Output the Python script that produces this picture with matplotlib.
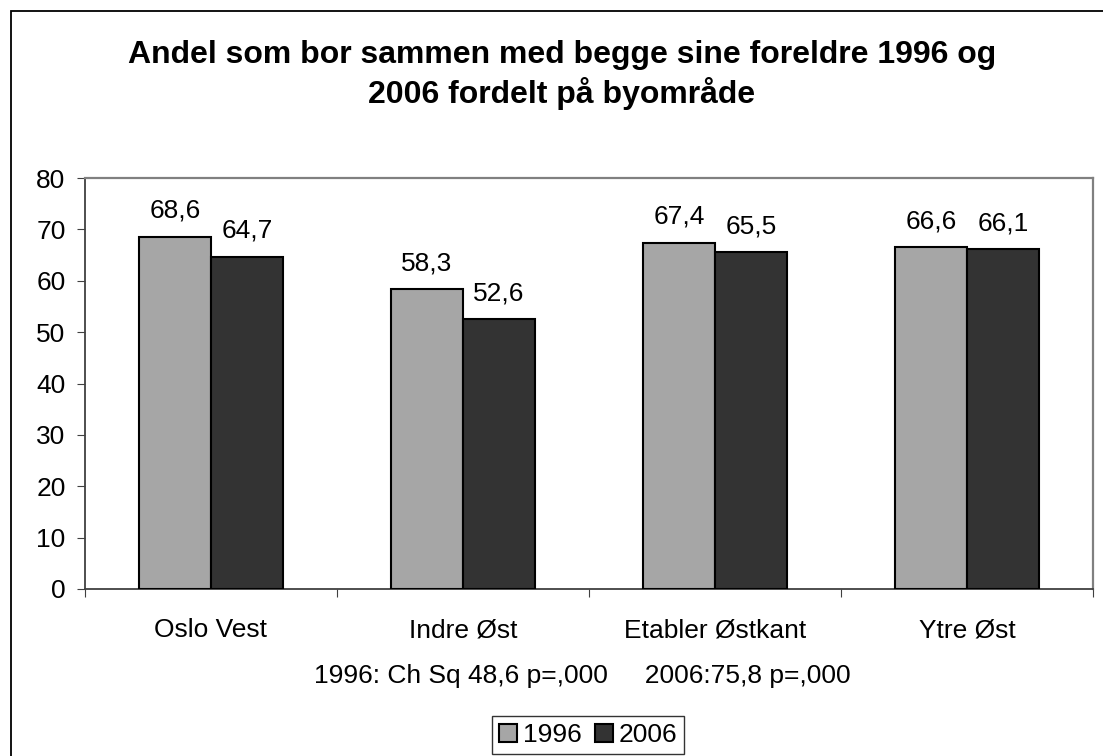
import numpy as np
import matplotlib.pyplot as plt
from matplotlib.patches import Rectangle

plt.rcParams['font.family'] = ['Liberation Sans', 'DejaVu Sans']

# data
categories = ['Oslo Vest', 'Indre Øst', 'Etabler Østkant', 'Ytre Øst']
v1996 = [68.6, 58.3, 67.4, 66.6]
v2006 = [64.7, 52.6, 65.5, 66.1]
labels1996 = ['68,6', '58,3', '67,4', '66,6']
labels2006 = ['64,7', '52,6', '65,5', '66,1']
yticks = [0, 10, 20, 30, 40, 50, 60, 70, 80]
title_lines = ['Andel som bor sammen med begge sine foreldre 1996 og', '2006 fordelt på byområde']
note = '1996: Ch Sq 48,6 p=,000     2006:75,8 p=,000'

W, H = 1103, 756
fs = 19

fig = plt.figure(figsize=(W / 100, H / 100), dpi=100)
# outer frame of the chart
fig.patches.append(Rectangle((11 / W, -0.01), 1.1, 1 - 11 / H + 0.01,
                             transform=fig.transFigure, fill=False,
                             edgecolor='black', linewidth=1.3))

ax = fig.add_axes([85 / W, 1 - 589 / H, 1008 / W, (589 - 178) / H])

x = np.arange(len(categories))
w = 72 / 252
ax.bar(x - w / 2, v1996, w, color='#a6a6a6', edgecolor='black', linewidth=1.5, label='1996', zorder=3)
ax.bar(x + w / 2, v2006, w, color='#333333', edgecolor='black', linewidth=1.5, label='2006', zorder=3)

for i in range(len(categories)):
    ax.annotate(labels1996[i], (x[i] - w / 2, v1996[i]), xytext=(0, 13.5),
                textcoords='offset points', ha='center', va='baseline', fontsize=fs)
    ax.annotate(labels2006[i], (x[i] + w / 2, v2006[i]), xytext=(0, 13.5),
                textcoords='offset points', ha='center', va='baseline', fontsize=fs)
    # category labels
    ax.annotate(categories[i], (x[i], 0), xytext=(0, -48 * 0.72),
                textcoords='offset points', ha='center', va='baseline', fontsize=fs)

ax.set_xlim(-0.5, len(categories) - 0.5)
ax.set_ylim(0, 80)
ax.set_yticks(yticks)
ax.set_yticklabels([str(t) for t in yticks], fontsize=fs)
ax.set_xticks(np.arange(len(categories) + 1) - 0.5)
ax.set_xticklabels([])
ax.tick_params(axis='x', length=6, direction='out', color='#404040')
ax.tick_params(axis='y', length=6, direction='out', color='#404040', pad=8)

for s in ['top', 'right']:
    ax.spines[s].set_color('#808080')
    ax.spines[s].set_linewidth(1.6)
for s in ['left', 'bottom']:
    ax.spines[s].set_color('#404040')
    ax.spines[s].set_linewidth(1.3)

fig.text(562 / W, 1 - 63 / H, title_lines[0], ha='center', va='baseline',
         fontsize=23, fontweight='bold')
fig.text(562 / W, 1 - 103 / H, title_lines[1], ha='center', va='baseline',
         fontsize=23, fontweight='bold')

fig.text(582 / W, 1 - 683 / H, note, ha='center', va='baseline', fontsize=fs)

leg = fig.legend(loc='center', bbox_to_anchor=(588 / W, 1 - 735 / H), ncol=2,
                 fontsize=fs, frameon=True, fancybox=False, handlelength=0.7,
                 handleheight=0.7, handletextpad=0.2, columnspacing=0.5,
                 borderpad=0.25, borderaxespad=0)
leg.get_frame().set_edgecolor('black')
leg.get_frame().set_linewidth(1.0)

fig.savefig('out.png', dpi=100)
